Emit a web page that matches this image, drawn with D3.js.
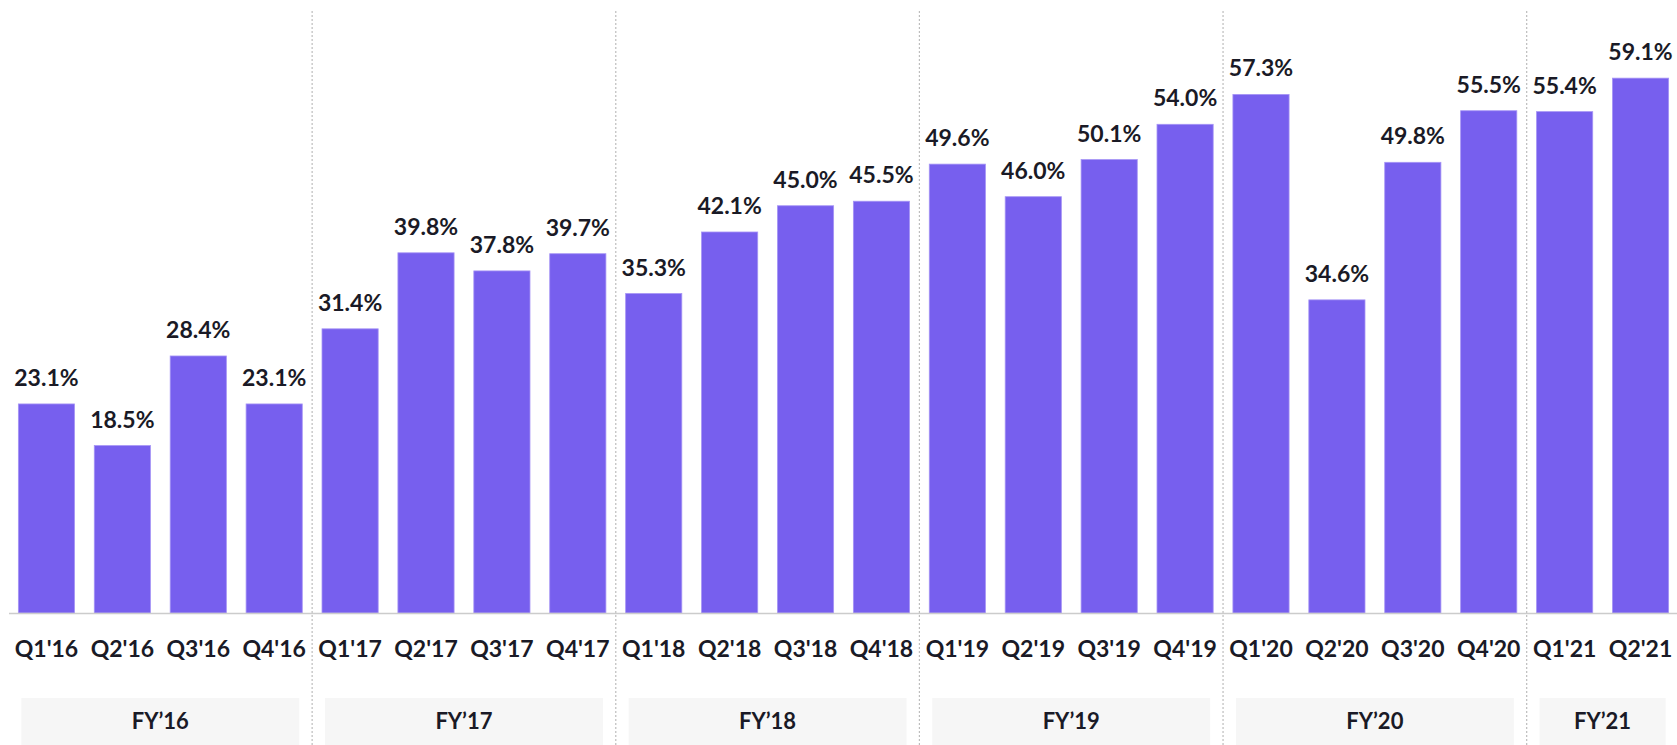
<!DOCTYPE html>
<html>
<head>
<meta charset="utf-8">
<script src="https://cdn.jsdelivr.net/npm/d3@7"></script>
<style>
  html, body { margin: 0; padding: 0; background: #fff; }
  svg { display: block; }
</style>
</head>
<body>
<div id="chart"></div>
<script>
var width = 1677;
var height = 745;

// data
var quarters = ["Q1'16", "Q2'16", "Q3'16", "Q4'16",
                "Q1'17", "Q2'17", "Q3'17", "Q4'17",
                "Q1'18", "Q2'18", "Q3'18", "Q4'18",
                "Q1'19", "Q2'19", "Q3'19", "Q4'19",
                "Q1'20", "Q2'20", "Q3'20", "Q4'20",
                "Q1'21", "Q2'21"];
var values = [23.1, 18.5, 28.4, 23.1,
              31.4, 39.8, 37.8, 39.7,
              35.3, 42.1, 45.0, 45.5,
              49.6, 46.0, 50.1, 54.0,
              57.3, 34.6, 49.8, 55.5,
              55.4, 59.1];
var fiscalYears = ["FY\u201916", "FY\u201917", "FY\u201918", "FY\u201919", "FY\u201920", "FY\u201921"];
var quartersPerYear = [4, 4, 4, 4, 4, 2];

var data = quarters.map((q, i) => ({quarter: q, value: values[i]}));

// group quarters by fiscal year
var groups = [];
var start = 0;
fiscalYears.forEach((fy, i) => {
  groups.push({name: fy, first: quarters[start], last: quarters[start + quartersPerYear[i] - 1]});
  start += quartersPerYear[i];
});

var baseY = 613;
var textColor = '#1a1a26';
var font = 'Lato, "Open Sans", sans-serif';

var x = d3.scaleBand()
  .domain(quarters)
  .range([8.5, 1678.5])
  .paddingInner(0.26)
  .paddingOuter(0.13);

var y = d3.scaleLinear()
  .domain([0, 60])
  .range([baseY, baseY - 9.05 * 60]);

var svg = d3.select('#chart').append('svg')
  .attr('width', width)
  .attr('height', height)
  .attr('font-family', font);

// fiscal year boxes
svg.append('g').selectAll('rect')
  .data(groups)
  .enter().append('rect')
    .attr('x', d => x(d.first) + 3)
    .attr('y', 698)
    .attr('width', d => x(d.last) + x.bandwidth() - x(d.first) - 6)
    .attr('height', 50)
    .attr('fill', '#f6f6f6');

svg.append('g').selectAll('text')
  .data(groups)
  .enter().append('text')
    .attr('x', d => (x(d.first) + x(d.last) + x.bandwidth()) / 2)
    .attr('y', 729)
    .attr('text-anchor', 'middle')
    .attr('fill', textColor)
    .style('font-size', '22px')
    .style('font-weight', 'bold')
    .text(d => d.name);

// dotted dividers between fiscal years
var gap = x.step() - x.bandwidth();
svg.append('g').selectAll('line')
  .data(groups.slice(0, -1))
  .enter().append('line')
    .attr('x1', d => x(d.last) + x.bandwidth() + gap / 2)
    .attr('x2', d => x(d.last) + x.bandwidth() + gap / 2)
    .attr('y1', 11)
    .attr('y2', height)
    .attr('stroke', '#bdbdbd')
    .attr('stroke-width', 1.2)
    .attr('stroke-dasharray', '2,2');

// bars
svg.append('g').selectAll('rect')
  .data(data)
  .enter().append('rect')
    .attr('x', d => x(d.quarter))
    .attr('y', d => y(d.value))
    .attr('width', x.bandwidth())
    .attr('height', d => baseY - y(d.value))
    .attr('fill', '#775fee')
    .attr('stroke', '#a694f5')
    .attr('stroke-width', 0.8);

// baseline
svg.append('line')
  .attr('x1', 9)
  .attr('x2', width)
  .attr('y1', baseY + 0.5)
  .attr('y2', baseY + 0.5)
  .attr('stroke', '#cccccc')
  .attr('stroke-width', 1.5);

// value labels
svg.append('g').selectAll('text')
  .data(data)
  .enter().append('text')
    .attr('x', d => x(d.quarter) + x.bandwidth() / 2)
    .attr('y', d => y(d.value) - 18)
    .attr('text-anchor', 'middle')
    .attr('fill', textColor)
    .style('font-size', '23px')
    .style('font-weight', 'bold')
    .text(d => d.value.toFixed(1) + '%');

// quarter labels
svg.append('g').selectAll('text')
  .data(quarters)
  .enter().append('text')
    .attr('x', d => x(d) + x.bandwidth() / 2)
    .attr('y', 657)
    .attr('text-anchor', 'middle')
    .attr('fill', textColor)
    .style('font-size', '23px')
    .style('font-weight', 'bold')
    .text(d => d);
</script>
</body>
</html>
